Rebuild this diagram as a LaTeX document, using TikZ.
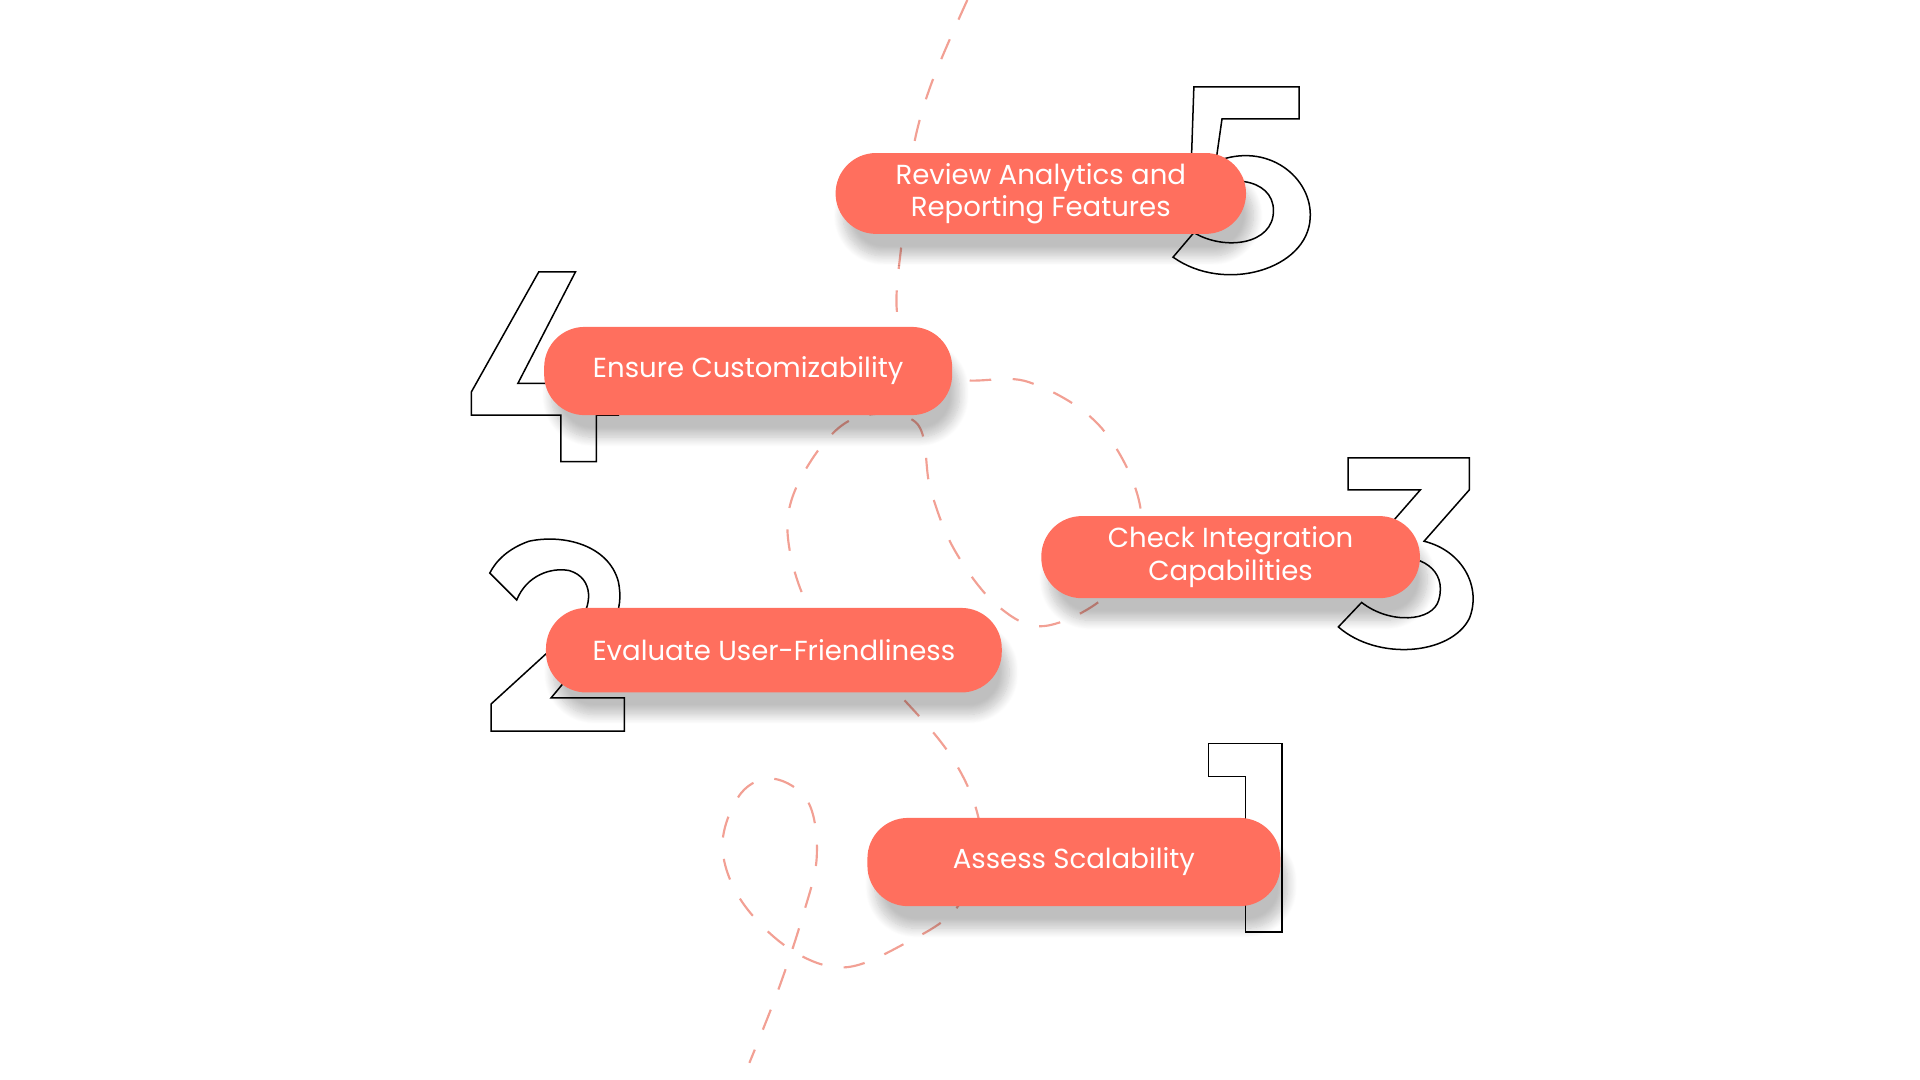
\documentclass[tikz,border=0pt]{standalone}
\usepackage{fontspec}
\setmainfont{Poppins}
\usetikzlibrary{shadows.blur}
\definecolor{pill}{HTML}{FF6F5E}
\definecolor{dash}{HTML}{F2A094}
\begin{document}
\begin{tikzpicture}[x=0.01cm,y=-0.01cm,
  pillbox/.style={fill=pill,rounded corners=0.33cm,text=white,align=center,
    font=\fontsize{6.4}{7.5}\selectfont,inner sep=0pt,
    blur shadow={shadow xshift=0.06cm,shadow yshift=-0.18cm,shadow blur steps=12,shadow opacity=25}},
  digit/.style={draw=black,line width=0.35pt,line join=miter},
  trail/.style={draw=dash,line width=0.5pt,dash pattern=on 5pt off 5pt}]
\useasboundingbox (0,0) rectangle (1568,882);
% dashed trail
\draw[trail] plot[smooth,tension=0.6] coordinates{(790,0) (760,70) (745,125) (737,191) (735,267) (778,308) (840,312) (900,350) (932,420) (910,480) (855,511) (815,495) (780,450) (760,400) (748,345) (697,342) (660,380) (643,430) (660,495) (700,535) (735,568) (775,615) (797,660) (800,700) (780,743) (740,770) (690,790) (645,775) (605,735) (590,690) (605,648) (632,636) (660,655) (667,700) (655,750) (635,810) (612,868)};
% digits
\path[digit] (987,607) -- (1047,607) -- (1047,761) -- (1017,761) -- (1017,634) -- (987,634) -- cycle;
\path[digit] (401,597) -- (510,597) -- (510,570) -- (450,570) -- (475,540) .. controls (500,515) and (510,500) .. (505,475)
  .. controls (497,445) and (460,436) .. (432,442) .. controls (415,448) and (405,458) .. (400,468)
  -- (422,490) .. controls (430,470) and (450,463) .. (465,466) .. controls (485,472) and (485,495) .. (470,512)
  -- (401,575) -- cycle;
\path[digit] (1101,374) -- (1200,374) -- (1200,400) -- (1163,442) .. controls (1195,450) and (1210,480) .. (1200,505)
  .. controls (1185,535) and (1125,540) .. (1093,512) -- (1112,492) .. controls (1135,510) and (1170,508) .. (1175,490)
  .. controls (1182,465) and (1160,452) .. (1133,455) -- (1125,440) -- (1160,400) -- (1101,400) -- cycle;
\path[digit] (440,222) -- (470,222) -- (423,313) -- (458,313) -- (458,290) -- (487,290) -- (487,313) -- (505,313)
  -- (505,339) -- (487,339) -- (487,377) -- (458,377) -- (458,339) -- (385,339) -- (385,320) -- cycle;
\path[digit] (975,71) -- (1061,71) -- (1061,97) -- (998,97) -- (993,132) .. controls (1035,115) and (1072,145) .. (1070,178)
  .. controls (1068,220) and (1000,240) .. (958,210) -- (975,190) .. controls (1000,205) and (1040,200) .. (1040,172)
  .. controls (1040,145) and (1000,140) .. (972,160) -- cycle;
% pills
\node[pillbox,minimum width=3.35cm,minimum height=0.66cm] (p5) at (850,158) {Review Analytics and\\Reporting Features};
\node[pillbox,minimum width=3.33cm,minimum height=0.72cm] (p4) at (611,303) {Ensure Customizability};
\node[pillbox,minimum width=3.09cm,minimum height=0.67cm] (p3) at (1005,455) {Check Integration\\Capabilities};
\node[pillbox,minimum width=3.72cm,minimum height=0.69cm] (p2) at (632,531) {Evaluate User-Friendliness};
\node[pillbox,minimum width=3.37cm,minimum height=0.72cm] (p1) at (877,704) {Assess Scalability};
\end{tikzpicture}
\end{document}
